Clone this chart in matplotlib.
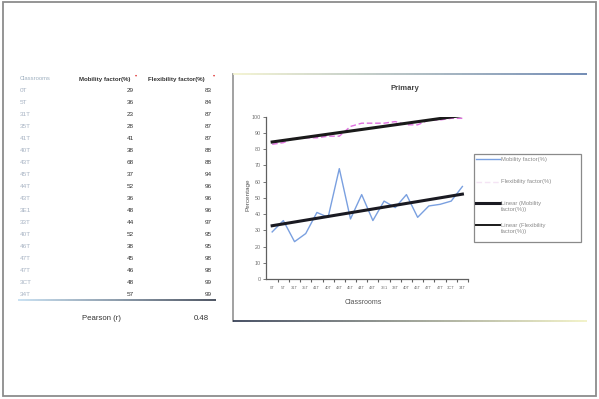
import numpy as np
import matplotlib
matplotlib.use("Agg")
import matplotlib.pyplot as plt
from matplotlib.collections import LineCollection
from matplotlib.lines import Line2D
from matplotlib.patches import Rectangle
from matplotlib.colors import LinearSegmentedColormap

# ---- data -------------------------------------------------------------
classrooms = ["0T", "5T", "31T", "35T", "41T", "40T", "43T", "45T", "44T",
              "43T", "3E1", "33T", "40T", "46T", "47T", "47T", "3CT", "34T"]
mobility = [29, 36, 23, 28, 41, 38, 68, 37, 52, 36, 48, 44, 52, 38, 45, 46, 48, 57]
flexibility = [83, 84, 87, 87, 87, 88, 88, 94, 96, 96, 96, 97, 95, 95, 98, 98, 99, 99]
pearson_r = "0.48"
y_ticks = [0, 10, 20, 30, 40, 50, 60, 70, 80, 90, 100]

W, H = 599, 399
fig = plt.figure(figsize=(W / 100, H / 100), dpi=100)
plt.rcParams["font.family"] = ["Liberation Sans", "DejaVu Sans"]


def fx(x):
    return x / W


def fy(y):
    return 1 - y / H


def gradient_hline(x0, x1, y, c0, c1, lw=1.3):
    xs = np.linspace(x0, x1, 120)
    segs = [[(fx(a), fy(y)), (fx(b), fy(y))] for a, b in zip(xs[:-1], xs[1:])]
    cmap = LinearSegmentedColormap.from_list("g", [c0, c1])
    cols = cmap(np.linspace(0, 1, len(segs)))
    fig.add_artist(LineCollection(segs, colors=cols, linewidths=lw,
                                  transform=fig.transFigure))


# ---- slide frame ------------------------------------------------------
fig.add_artist(Rectangle((fx(3), fy(396)), fx(593), (396 - 2) / H,
                         fill=False, edgecolor="#8c8c8c", linewidth=1.3,
                         transform=fig.transFigure))

# ---- table ------------------------------------------------------------
head_y = 79
fig.text(fx(20), fy(head_y), "Classrooms", fontsize=4.2, color="#9fb0c0",
         va="center", ha="left")
fig.text(fx(105), fy(head_y), "Mobility factor(%)", fontsize=4.4, color="#333333",
         va="center", ha="center", fontweight="bold", stretch="condensed")
fig.text(fx(176), fy(head_y), "Flexibility factor(%)", fontsize=4.4, color="#333333",
         va="center", ha="center", fontweight="bold", stretch="condensed")
for hx in (136, 214):
    fig.text(fx(hx), fy(head_y - 4), "\u25BE", fontsize=3, color="#e03030",
             va="center", ha="center")

row0, step = 91, 11.95
for i, (c, m, f) in enumerate(zip(classrooms, mobility, flexibility)):
    yy = fy(row0 + step * i)
    fig.text(fx(20), yy, c, fontsize=4.6, color="#a8b4c4", va="center", ha="left")
    fig.text(fx(130), yy, str(m), fontsize=4.6, color="#333333", va="center",
             ha="center")
    fig.text(fx(208), yy, str(f), fontsize=4.6, color="#333333", va="center",
             ha="center")

gradient_hline(18, 216, 300, "#c0dcf0", "#303848", lw=1.2)
fig.text(fx(101), fy(318), "Pearson (r)", fontsize=5.6, color="#333333",
         va="center", ha="center")
fig.text(fx(201), fy(318), pearson_r, fontsize=5.6, color="#333333",
         va="center", ha="center")

# ---- chart panel borders ----------------------------------------------
fig.add_artist(Line2D([fx(233), fx(233)], [fy(74), fy(321)], color="#9a9a9a",
                      linewidth=1.3, transform=fig.transFigure))
gradient_hline(233, 587, 74, "#f2f2cc", "#5a78a8", lw=1.2)
gradient_hline(233, 587, 321, "#28324a", "#f0f0c0", lw=1.2)

# ---- chart ------------------------------------------------------------
ax = fig.add_axes([fx(266), fy(279), fx(468) - fx(266), (279 - 116.7) / H])
x = np.arange(len(classrooms))

ax.plot(x, mobility, color="#7aa0e0", linewidth=1.0)
ax.plot(x, flexibility, color="#e070e0", linewidth=1.0, linestyle=(0, (4, 2)))

for series, lw, col in ((mobility, 2.2, "#1a1a22"), (flexibility, 2.2, "#1a1a1a")):
    k, b = np.polyfit(x, series, 1)
    ax.plot(x, k * x + b, color=col, linewidth=lw)

ax.set_xlim(-0.55, len(classrooms) - 0.5)
ax.set_ylim(0, 100)
ax.set_yticks(y_ticks)
ax.set_yticklabels([str(v) for v in y_ticks], fontsize=3.9, color="#707070")
ax.set_xticks(x)
ax.set_xticklabels(classrooms, fontsize=3.0, color="#707070")
ax.set_xticks(np.arange(len(classrooms)) + 0.5, minor=True)
ax.tick_params(axis="x", which="major", length=0, pad=5)
ax.tick_params(axis="x", which="minor", length=2, width=0.8, color="#606060",
               direction="out")
ax.tick_params(axis="y", length=2, width=0.6, color="#606060", pad=1.5)
for side in ("top", "right"):
    ax.spines[side].set_visible(False)
ax.spines["left"].set_color("#606060")
ax.spines["bottom"].set_color("#606060")
ax.spines["left"].set_linewidth(0.9)
ax.spines["bottom"].set_linewidth(0.9)
ax.patch.set_alpha(0)

fig.text(fx(405), fy(88), "Primary", fontsize=5.6, fontweight="bold",
         color="#444444", ha="center", va="center")
fig.text(fx(363), fy(302), "Classrooms", fontsize=5.0, color="#555555",
         ha="center", va="center")
fig.text(fx(248), fy(195), "Percentage", fontsize=4.6, color="#555555",
         ha="center", va="center", rotation=90)

# ---- legend -----------------------------------------------------------
fig.add_artist(Rectangle((fx(474), fy(242)), fx(581) - fx(474), (242 - 154) / H,
                         fill=False, edgecolor="#8a8a8a", linewidth=0.9,
                         transform=fig.transFigure))
legend_rows = [
    (159, ["Mobility factor(%)"], "#7aa0e0", 1.0, "-"),
    (182, ["Flexibility factor(%)"], "#f4e4f4", 1.0, (0, (4, 2))),
    (203, ["Linear (Mobility", "factor(%))"], "#1a1a22", 2.2, "-"),
    (225, ["Linear (Flexibility", "factor(%))"], "#1a1a1a", 1.4, "-"),
]
for ly, lines, col, lw, ls in legend_rows:
    fig.add_artist(Line2D([fx(476), fx(500)], [fy(ly), fy(ly)], color=col,
                          linewidth=lw, linestyle=ls, transform=fig.transFigure))
    for j, t in enumerate(lines):
        fig.text(fx(501), fy(ly + 7 * j), t, fontsize=4.2, color="#8a8a8a",
                 ha="left", va="center")

fig.savefig("out.png", dpi=100)
